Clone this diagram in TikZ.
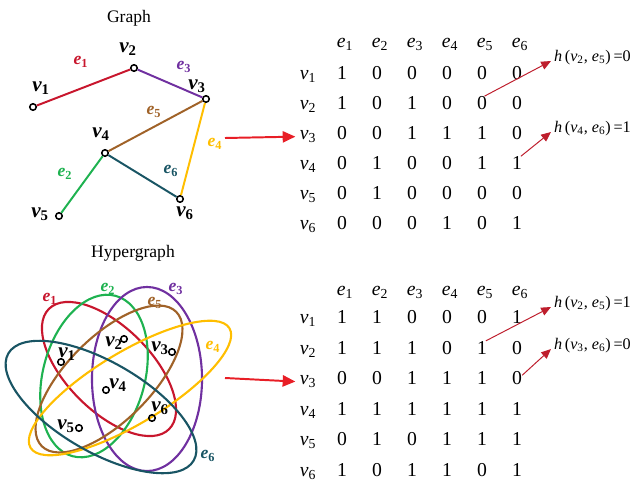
\documentclass[tikz,border=0pt]{standalone}
\usepackage{fontspec}
\setmainfont{Liberation Serif}
\usetikzlibrary{arrows.meta}

\definecolor{eone}{RGB}{200,22,45}
\definecolor{etwo}{RGB}{30,178,80}
\definecolor{ethree}{RGB}{112,48,160}
\definecolor{efour}{RGB}{255,190,0}
\definecolor{efive}{RGB}{160,98,40}
\definecolor{esix}{RGB}{25,85,100}
\definecolor{arrowred}{RGB}{232,30,38}
\definecolor{notered}{RGB}{190,30,45}

\newcommand{\vlab}[1]{{\bfseries\itshape v}\textsubscript{\bfseries #1}}
\newcommand{\elab}[1]{{\bfseries\itshape e}\textsubscript{\bfseries #1}}

\begin{document}
\begin{tikzpicture}[
    x=0.025cm, y=-0.025cm,
    vert/.style={circle, draw, line width=1.1pt, inner sep=0pt, minimum size=4.6pt},
    vname/.style={font=\fontsize{15}{18}\selectfont, inner sep=0pt},
    ename/.style={font=\fontsize{12.5}{15}\selectfont, inner sep=0pt},
    link/.style={line width=1.4pt},
    hedge/.style={line width=1.5pt},
    cell/.style={font=\fontsize{14}{16}\selectfont, inner sep=0pt, anchor=base},
    title/.style={font=\fontsize{12.5}{15}\selectfont},
    bigarrow/.style={-{Triangle[length=9pt,width=8pt]}, arrowred, line width=1.4pt},
    notearrow/.style={-{Triangle[length=7pt,width=6pt]}, notered, line width=0.7pt},
    note/.style={font=\fontsize{11.5}{14}\selectfont, anchor=base west, inner xsep=2pt, inner ysep=0pt}
  ]
    \useasboundingbox (0,0) rectangle (644,481);

    % simple graph
    \node[title] (gtitle) at (129,18) {Graph};
    \node[vert] (g1) at (33,107) {};
    \node[vert] (g2) at (134,68) {};
    \node[vert] (g3) at (206,99) {};
    \node[vert] (g4) at (105,153) {};
    \node[vert] (g5) at (59,216) {};
    \node[vert] (g6) at (180,199) {};

    \draw[link, eone] (g1) -- (g2);
    \draw[link, ethree] (g2) -- (g3);
    \draw[link, efive] (g4) -- (g3);
    \draw[link, efour] (g3) -- (g6);
    \draw[link, etwo] (g5) -- (g4);
    \draw[link, esix] (g4) -- (g6);

    \node[vname] (gl1) at (41,88) {\vlab{1}};
    \node[vname] (gl2) at (128,49) {\vlab{2}};
    \node[vname] (gl3) at (197,86) {\vlab{3}};
    \node[vname] (gl4) at (101,134) {\vlab{4}};
    \node[vname] (gl5) at (40,214) {\vlab{5}};
    \node[vname] (gl6) at (185,213) {\vlab{6}};

    \node[ename, eone] (ge1) at (81,62) {\elab{1}};
    \node[ename, ethree] (ge3) at (184,67) {\elab{3}};
    \node[ename, efive] (ge5) at (154,112) {\elab{5}};
    \node[ename, efour] (ge4) at (215,144) {\elab{4}};
    \node[ename, etwo] (ge2) at (65,174) {\elab{2}};
    \node[ename, esix] (ge6) at (171,171) {\elab{6}};

    % hypergraph
    \node[title] (htitle) at (133,253) {Hypergraph};
    \draw[hedge, eone, rotate around={-45:(109,369)}] (109,369) ellipse [x radius=2.125cm, y radius=1.05cm];
    \draw[hedge, etwo, rotate around={75:(94,376)}] (94,376) ellipse [x radius=2.075cm, y radius=1.275cm];
    \draw[hedge, ethree, rotate around={90:(147,379)}] (147,379) ellipse [x radius=2.3cm, y radius=1.375cm];
    \draw[hedge, efive, rotate around={45:(109,379)}] (109,379) ellipse [x radius=2.375cm, y radius=1.05cm];
    \draw[hedge, efour, rotate around={31:(130,388)}] (130,388) ellipse [x radius=2.9cm, y radius=0.9cm];
    \draw[hedge, esix, rotate around={-30:(101,407)}] (101,407) ellipse [x radius=2.675cm, y radius=1.125cm];

    \node[vert] (h1) at (61,362) {};
    \node[vert] (h2) at (124,339) {};
    \node[vert] (h3) at (172,352) {};
    \node[vert] (h4) at (106,390) {};
    \node[vert] (h5) at (79,428) {};
    \node[vert] (h6) at (152,418) {};

    \node[vname] (hl1) at (67,354) {\vlab{1}};
    \node[vname] (hl2) at (114,343) {\vlab{2}};
    \node[vname] (hl3) at (160,348) {\vlab{3}};
    \node[vname] (hl4) at (118,385) {\vlab{4}};
    \node[vname] (hl5) at (66,426) {\vlab{5}};
    \node[vname] (hl6) at (160,408) {\vlab{6}};

    \node[ename, eone] (he1) at (50,299) {\elab{1}};
    \node[ename, etwo] (he2) at (108,289) {\elab{2}};
    \node[ename, ethree] (he3) at (176,289) {\elab{3}};
    \node[ename, efive] (he5) at (155,303) {\elab{5}};
    \node[ename, efour] (he4) at (213,347) {\elab{4}};
    \node[ename, esix] (he6) at (208,456) {\elab{6}};

    % incidence matrix of the graph
    \foreach \c in {1,...,6}
      \node[cell] (th-\c) at ({310+35*\c}, 47) {\textit{e}\textsubscript{\c}};
    \foreach \row [count=\r] in {{1,0,0,0,0,0},{1,0,1,0,0,0},{0,0,1,1,1,0},{0,1,0,0,1,1},{0,1,0,0,0,0},{0,0,0,1,0,1}} {
      \node[cell] (tv-\r) at (308, {49.5+30*\r}) {\textit{v}\textsubscript{\r}};
      \foreach \val [count=\c] in \row
        \node[cell] (t-\r-\c) at ({307+35*\c}, {49.5+30*\r}) {\val};
    }

    % incidence matrix of the hypergraph
    \foreach \c in {1,...,6}
      \node[cell] (bh-\c) at ({310+35*\c}, 295) {\textit{e}\textsubscript{\c}};
    \foreach \row [count=\r] in {{1,1,0,0,0,1},{1,1,1,0,1,0},{0,0,1,1,1,0},{1,1,1,1,1,1},{0,1,0,1,1,1},{1,0,1,1,0,1}} {
      \node[cell] (bv-\r) at (308, {292.9+30.6*\r}) {\textit{v}\textsubscript{\r}};
      \foreach \val [count=\c] in \row
        \node[cell] (b-\r-\c) at ({307+35*\c}, {292.9+30.6*\r}) {\val};
    }

    % arrows
    \coordinate (gout) at (225,138);
    \coordinate (hout) at (225,378);
    \draw[bigarrow, shorten >=3pt] (gout) -- (tv-3.west);
    \draw[bigarrow, shorten >=3pt] (hout) -- (bv-3.west);

    \node[note] (na) at (551,61) {\textit{h}\,(\textit{v}\textsubscript{2}, \textit{e}\textsubscript{5})\,=0};
    \node[note] (nb) at (551,132) {\textit{h}\,(\textit{v}\textsubscript{4}, \textit{e}\textsubscript{6})\,=1};
    \node[note] (nc) at (551,307) {\textit{h}\,(\textit{v}\textsubscript{2}, \textit{e}\textsubscript{5})\,=1};
    \node[note] (nd) at (551,349) {\textit{h}\,(\textit{v}\textsubscript{3}, \textit{e}\textsubscript{6})\,=0};

    \draw[notearrow] (t-2-5.70) -- (na.base west);
    \draw[notearrow] (t-4-6.60) -- (nb.base west);
    \draw[notearrow] (b-2-5.60) -- (nc.base west);
    \draw[notearrow] (b-3-6.30) -- (nd.base west);
  \end{tikzpicture}
\end{document}
